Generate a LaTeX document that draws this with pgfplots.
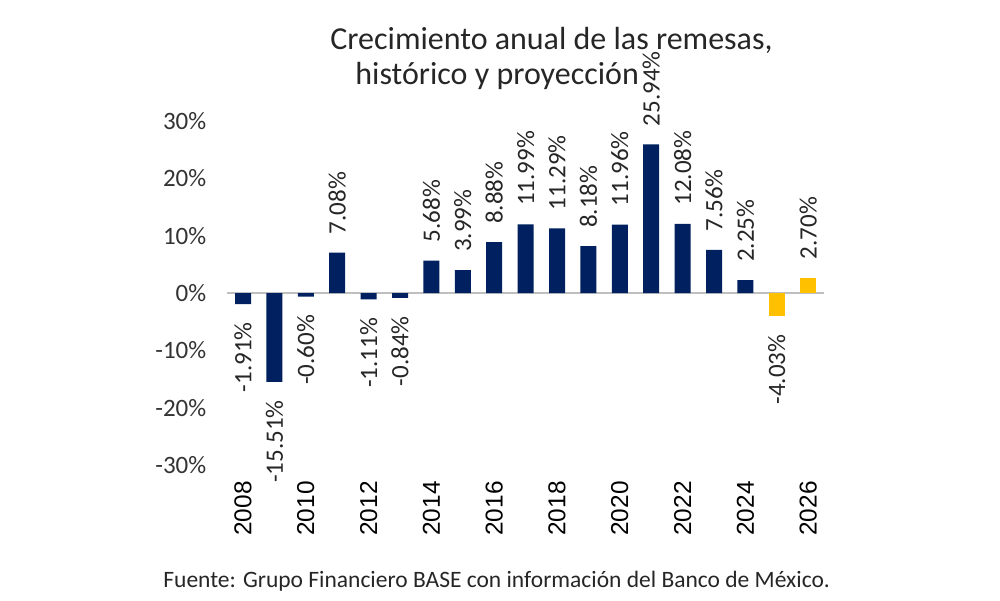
\documentclass[border=0pt]{standalone}
\usepackage{fontspec}
\setmainfont{Carlito}
\newfontfamily\arialf{Liberation Sans}
\usepackage{pgfplots}
\pgfplotsset{compat=1.18}
\usepackage{pgfplotstable}

\definecolor{navy}{HTML}{002060}
\definecolor{gold}{HTML}{FFC000}
\definecolor{zeroline}{HTML}{BFBFBF}

% historic growth, split by sign so the labels can sit on the right side
\pgfplotstableread{
x y lbl
2011 7.08 7.08
2014 5.68 5.68
2015 3.99 3.99
2016 8.88 8.88
2017 11.99 11.99
2018 11.29 11.29
2019 8.18 8.18
2020 11.96 11.96
2021 25.94 25.94
2022 12.08 12.08
2023 7.56 7.56
2024 2.25 2.25
}\histpos
\pgfplotstableread{
x y lbl
2008 -1.91 -1.91
2009 -15.51 -15.51
2010 -0.60 -0.60
2012 -1.11 -1.11
2013 -0.84 -0.84
}\histneg
% projection
\pgfplotstableread{
x y lbl
2026 2.70 2.70
}\projpos
\pgfplotstableread{
x y lbl
2025 -4.03 -4.03
}\projneg

\begin{document}
\begin{tikzpicture}
\begin{axis}[
    name=ax, at={(0,0)}, anchor=south west,
    x=15.7pt, y=2.865pt,
    xmin=2007.5, xmax=2026.5, ymin=-30, ymax=30,
    axis line style={draw=none}, major tick length=0pt,
    ytick={-30,-20,-10,0,10,20,30},
    yticklabels={-30\%,-20\%,-10\%,0\%,10\%,20\%,30\%},
    xtick={2008,2010,2012,2014,2016,2018,2020,2022,2024,2026},
    xticklabels={2008,2010,2012,2014,2016,2018,2020,2022,2024,2026},
    yticklabel style={font=\fontsize{12.5}{12.5}\selectfont, text=black!80, xshift=-7pt},
    xticklabel style={font=\arialf\fontsize{12.2}{12.2}\selectfont, rotate=90,
        anchor=east, inner xsep=8pt, text=black},
    ybar, bar width=8pt, clip=false,
    point meta=explicit symbolic,
    nodes near coords={\pgfplotspointmeta\%},
    every node near coord/.append style={font=\fontsize{12.5}{12.5}\selectfont,
        rotate=90, inner xsep=9pt, inner ysep=0pt, text=black!85},
]
\draw[zeroline, line width=1pt] (axis cs:2007.5,0) -- (axis cs:2026.5,0);
\addplot[fill=navy, draw=none, bar shift=0pt,
    every node near coord/.append style={anchor=west}]
    table[x=x, y=y, meta=lbl] {\histpos};
\addplot[fill=navy, draw=none, bar shift=0pt,
    every node near coord/.append style={anchor=east}]
    table[x=x, y=y, meta=lbl] {\histneg};
\addplot[fill=gold, draw=none, bar shift=0pt,
    every node near coord/.append style={anchor=west}]
    table[x=x, y=y, meta=lbl] {\projpos};
\addplot[fill=gold, draw=none, bar shift=0pt,
    every node near coord/.append style={anchor=east}]
    table[x=x, y=y, meta=lbl] {\projneg};
\end{axis}
\path (ax.south west) ++(-113.65pt,-67.5pt) rectangle ++(500pt,300pt);
\node[anchor=base west, font=\fontsize{16}{16}\selectfont, text=black!85, inner sep=0pt]
    at ([shift={(51.35pt,207.5pt)}]ax.south west) {Crecimiento anual de las remesas,};
\node[anchor=base west, font=\fontsize{16}{16}\selectfont, text=black!85, inner sep=0pt]
    at ([shift={(63.85pt,190pt)}]ax.south west) {histórico y proyección};
\node[anchor=base west, font=\fontsize{11.75}{11.75}\selectfont, text=black!85, inner sep=0pt]
    at ([shift={(-32.15pt,-61pt)}]ax.south west)
    {Fuente: Grupo Financiero BASE con información del Banco de México.};
\end{tikzpicture}
\end{document}
